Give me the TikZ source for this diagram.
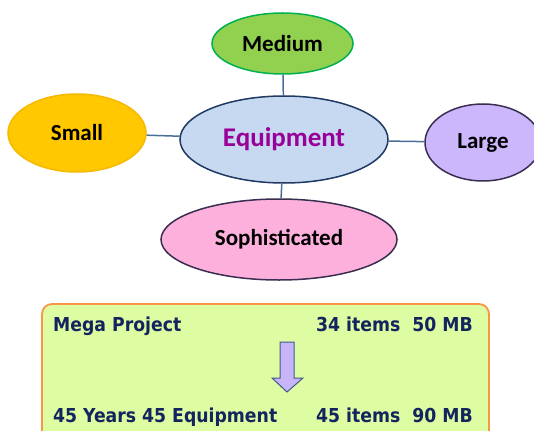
\documentclass[tikz,border=0pt]{standalone}
\usepackage{fontspec}
\setmainfont{Carlito}
\newfontfamily\boxfont{DejaVu Sans Condensed}
\usetikzlibrary{shapes.geometric}
\definecolor{medfill}{HTML}{92D050}
\definecolor{medline}{HTML}{00B050}
\definecolor{eqfill}{HTML}{C6D9F0}
\definecolor{eqline}{HTML}{1F3864}
\definecolor{eqtext}{HTML}{990099}
\definecolor{smfill}{HTML}{FFC800}
\definecolor{smline}{HTML}{F7B800}
\definecolor{lgfill}{HTML}{CCB6FC}
\definecolor{darkline}{HTML}{3A2E50}
\definecolor{sofill}{HTML}{FDB0DC}
\definecolor{connector}{HTML}{4A6E98}
\definecolor{boxfill}{HTML}{DEFCA2}
\definecolor{boxline}{HTML}{F79646}
\definecolor{boxtext}{HTML}{13245E}
\definecolor{arrfill}{HTML}{C8B4F8}
\definecolor{arrline}{HTML}{3E5A8A}
\tikzset{
  bubble/.style={ellipse, inner sep=0pt, line width=1.5pt, font=\bfseries\fontsize{23}{25}\selectfont},
  link/.style={draw=connector, line width=1.5pt},
  boxtxt/.style={inner sep=0pt, text=boxtext, font=\boxfont\bfseries\fontsize{19.2}{21}\selectfont},
}
\begin{document}
\begin{tikzpicture}[x=1pt,y=-1pt]
\useasboundingbox (0,0) rectangle (534,430);
\clip (0,0) rectangle (534,430);
% bubbles
\node[bubble, fill=eqfill, draw=eqline, minimum width=208pt, minimum height=87pt,
      text=eqtext, font=\bfseries\fontsize{27}{29}\selectfont] (eq) at (284,139.5) {Equipment};
\node[bubble, fill=medfill, draw=medline, minimum width=141pt, minimum height=61pt] (med) at (282.5,43.5) {Medium};
\node[bubble, fill=smfill, draw=smline, minimum width=138pt, minimum height=78pt] (sm) at (77,133) {Small};
\node[bubble, fill=lgfill, draw=darkline, minimum width=116pt, minimum height=77pt] (lg) at (483,142.5) {Large};
\node[bubble, fill=sofill, draw=darkline, minimum width=236pt, minimum height=81pt] (so) at (279,239.5) {Sophisticated};
% connectors
\draw[link] (med) -- (eq);
\draw[link] (sm) -- (eq);
\draw[link] (eq) -- (lg);
\draw[link] (eq) -- (so);
% bottom box
\draw[fill=boxfill, draw=boxline, line width=1.8pt, rounded corners=10pt] (42,304) rectangle (489,445);
\node[boxtxt, anchor=base west] (mp) at (53,331) {Mega Project};
\node[boxtxt, anchor=base east] (mpi) at (473,331) {34 items\ \ 50 MB};
\node[boxtxt, anchor=base west] (ye) at (53,422) {45 Years 45 Equipment};
\node[boxtxt, anchor=base east] (yei) at (473,422) {45 items\ \ 90 MB};
% down arrow
\draw[fill=arrfill, draw=arrline, line width=1pt, line join=miter]
  (280,342) -- (294,342) -- (294,378) -- (303,378) -- (287,392) -- (272,378) -- (280,378) -- cycle;
\end{tikzpicture}
\end{document}
